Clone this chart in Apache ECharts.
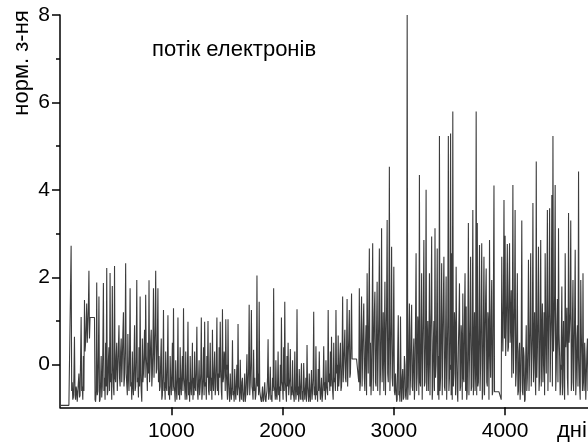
<!DOCTYPE html>
<html>
<head>
<meta charset="utf-8">
<script src="https://cdn.jsdelivr.net/npm/echarts@6/dist/echarts.min.js"></script>
<style>
html,body{margin:0;padding:0;background:#fff;}
#chart{width:588px;height:444px;}
</style>
</head>
<body>
<div id="chart"></div>
<script>
// Normalised electron flux, one reading every dayStep days
const dayStep = 5;
const fluxValues = [
  -0.93,-0.93,-0.93,-0.93,-0.93,-0.93,-0.93,-0.93,-0.93,-0.93,-0.93,-0.93,-0.93,-0.93,-0.93,-0.93,-0.93,-0.93,-0.93,-0.93,
  2.72,-0.6,-0.4,-0.8,-0.75,-0.3,0.64,-0.7,-0.8,-0.5,-0.6,-0.85,-0.85,-0.4,-0.2,-0.75,-0.7,0.1,1.09,-0.6,
  -0.5,-0.8,0.2,-0.6,1.48,0.3,0.5,0.9,1.4,0.5,0.9,1.3,2.15,0.6,1.08,1.08,1.08,1.08,1.08,1.08,
  1.08,1.08,1.08,-0.8,-0.85,-0.6,1.88,-0.7,-0.6,0.2,1.56,-0.85,-0.8,-0.4,0.2,-0.75,-0.5,0.4,1.87,-0.6,
  -0.3,-0.8,0.5,-0.5,2.21,-0.7,-0.6,0.1,0.4,-0.6,2.1,-0.4,-0.2,-0.8,1.8,0.0,-0.5,-0.7,2.26,-0.3,
  -0.4,0.2,0.5,-0.6,-0.1,0.4,0.9,-0.3,-0.5,0.3,0.6,-0.4,0.1,0.7,1.2,-0.5,-0.3,0.4,2.32,-0.2,
  -0.2,-0.7,0.7,-0.3,-0.6,0.2,1.75,-0.5,-0.4,-0.8,0.3,-0.5,-0.7,0.1,0.9,-0.6,-0.5,0.2,1.94,-0.4,
  -0.3,-0.75,0.4,-0.5,1.56,-0.2,-0.6,-0.85,0.6,-0.4,-0.2,0.3,0.8,-0.3,1.6,0.2,-0.1,-0.6,0.5,-0.2,
  1.93,-0.4,0.0,0.5,0.8,-0.5,-0.2,0.4,1.75,-0.3,0.3,0.9,2.15,-0.2,-0.1,0.6,1.75,-0.4,0.2,-0.6,
  -0.5,0.1,0.6,-0.8,-0.7,-0.2,1.25,-0.6,-0.4,-0.8,0.3,-0.5,-0.6,0.0,1.13,-0.7,-0.5,-0.8,0.2,-0.4,
  -0.7,-0.2,0.5,-0.6,1.29,-0.5,-0.6,-0.85,0.1,-0.5,-0.8,-0.3,1.08,-0.7,-0.3,-0.8,0.4,-0.5,-0.7,-0.2,
  0.2,-0.6,1.29,-0.3,-0.5,-0.8,0.3,-0.6,-0.8,-0.2,0.98,-0.7,-0.4,-0.85,0.2,-0.5,-0.7,-0.3,0.5,-0.8,
  -0.3,-0.7,0.3,-0.5,-0.6,-0.1,0.87,-0.6,-0.8,-0.4,0.1,-0.7,-0.5,-0.2,1.08,-0.8,-0.6,-0.3,0.4,-0.7,
  0.98,-0.5,-0.4,-0.8,0.2,-0.3,1.0,-0.6,-0.7,-0.2,0.5,-0.6,-0.3,-0.8,0.8,-0.4,-0.6,-0.1,0.3,-0.7,
  -0.5,0.0,1.08,-0.6,-0.2,-0.7,0.4,-0.3,0.98,-0.1,-0.6,-0.8,1.27,-0.4,-0.3,0.3,0.2,-0.6,1.04,-0.2,
  -0.5,-0.8,1.04,-0.4,-0.7,-0.85,-0.2,-0.6,-0.8,-0.5,0.56,-0.7,-0.6,-0.85,-0.1,-0.6,-0.8,-0.4,0.0,-0.7,
  0.93,-0.5,-0.6,-0.85,0.11,-0.6,-0.8,-0.4,-0.3,-0.8,-0.85,-0.6,-0.2,-0.85,-0.7,-0.3,0.24,-0.7,-0.5,-0.1,
  1.37,-0.7,-0.4,0.1,1.25,-0.5,-0.6,-0.8,0.34,-0.6,-0.3,-0.8,-0.7,-0.4,2.04,-0.5,-0.2,-0.7,1.44,-0.6,
  -0.6,-0.8,-0.85,-0.7,-0.5,-0.85,-0.8,-0.6,-0.4,-0.8,-0.85,-0.7,-0.6,-0.3,0.58,-0.8,-0.7,-0.5,-0.05,-0.8,
  -0.7,-0.85,-0.3,-0.6,1.75,-0.5,-0.6,-0.8,0.1,-0.7,-0.8,-0.5,0.3,-0.7,-0.5,-0.85,0.0,-0.6,1.08,-0.4,
  -0.5,-0.8,0.4,-0.6,1.44,-0.4,-0.6,-0.85,0.2,-0.5,0.5,-0.7,-0.7,-0.3,0.36,-0.8,-0.5,-0.7,0.1,-0.6,
  -0.6,-0.85,0.3,-0.5,-0.8,-0.6,1.27,-0.7,-0.5,-0.85,-0.1,-0.6,-0.8,-0.4,0.03,-0.8,-0.6,-0.85,0.04,-0.5,
  -0.8,-0.6,-0.3,-0.85,0.45,-0.5,-0.7,-0.85,-0.2,-0.7,-0.85,-0.5,-0.12,-0.8,-0.6,-0.3,1.21,-0.7,-0.5,-0.8,
  0.42,-0.7,-0.6,-0.85,-0.1,-0.6,0.3,-0.5,-0.8,-0.6,-0.3,-0.85,-0.7,-0.4,0.42,-0.6,-0.4,-0.8,0.1,-0.5,
  -0.5,-0.7,1.25,-0.4,-0.2,-0.6,0.3,-0.5,0.64,-0.3,-0.6,-0.8,0.5,-0.4,-0.3,-0.6,1.25,-0.2,-0.1,-0.6,
  0.67,-0.5,-0.3,0.2,0.5,-0.6,-0.5,0.1,1.56,-0.4,0.0,0.4,0.8,-0.3,-0.4,0.3,1.5,-0.5,0.2,0.6,
  1.25,-0.3,-0.2,0.5,1.63,0.13,0.13,0.13,0.13,0.13,0.13,0.13,0.13,0.13,0.13,0.13,0.13,-0.4,1.75,-0.6,
  -0.4,0.8,1.56,-0.5,0.2,0.9,1.4,-0.3,-0.6,0.4,0.9,-0.7,2.09,0.6,-0.2,1.1,2.66,-0.5,0.5,-0.7,
  -0.3,1.0,2.78,-0.6,0.4,1.2,1.67,-0.4,-0.5,0.8,1.9,-0.6,0.3,1.1,2.66,-0.7,-0.2,0.9,3.12,-0.4,
  0.2,1.2,-0.6,0.4,1.9,-0.7,0.5,1.3,3.31,-0.2,-0.4,0.9,4.53,-0.6,0.1,1.0,2.7,-0.3,-0.5,0.5,
  2.24,-0.6,-0.7,-0.2,-0.2,-0.85,-0.8,0.3,1.13,-0.7,-0.6,-0.85,1.1,-0.5,-0.85,-0.3,-0.1,-0.8,-0.75,0.2,
  0.0,-0.7,-0.8,-0.5,8.0,-0.8,-0.5,0.5,1.4,-0.7,-0.3,0.8,1.37,-0.5,-0.6,0.2,0.6,-0.8,-0.4,1.0,
  2.55,-0.6,-0.2,1.1,0.8,-0.7,4.34,-0.4,-0.5,0.7,2.09,-0.8,0.3,1.2,2.85,-0.5,-0.4,0.6,4.0,-0.6,
  0.4,1.0,-0.6,0.2,2.09,-0.7,0.6,1.3,2.93,-0.8,-0.5,0.5,1.0,-0.6,3.12,-0.3,0.0,0.9,2.66,-0.7,
  0.2,-0.8,5.23,-0.6,-0.3,1.0,2.32,-0.7,0.5,1.4,2.47,-0.5,-0.6,0.6,2.02,-0.8,0.1,1.1,5.23,-0.6,
  -0.3,0.7,5.29,-0.7,2.55,-0.8,5.79,-0.5,-0.2,1.2,0.8,-0.7,2.24,0.3,-0.6,-0.85,0.4,1.0,1.86,-0.6,
  -0.5,0.9,0.6,-0.8,1.63,-0.3,-0.4,1.1,2.09,-0.6,1.33,-0.8,-0.6,0.5,3.24,-0.7,0.2,1.0,2.47,-0.6,
  -0.5,0.8,3.54,-0.7,0.3,1.2,-0.6,-0.2,5.79,-0.7,3.24,-0.5,-0.4,0.9,2.74,-0.6,0.0,1.3,2.78,-0.8,
  -0.6,1.0,2.47,-0.7,0.5,1.5,2.2,-0.4,-0.5,1.2,0.9,-0.8,2.85,0.4,-0.3,1.1,1.94,-0.7,-0.6,1.6,
  4.1,-0.62,-0.62,-0.62,-0.62,-0.62,-0.62,-0.62,-0.62,-0.62,-0.62,-0.62,-0.62,-0.8,2.47,0.9,0.3,1.4,3.77,0.6,
  2.95,0.2,0.8,1.6,2.76,0.3,0.4,1.8,2.78,0.5,1.0,1.7,-0.3,0.9,4.11,-0.2,0.6,1.4,3.54,-0.5,
  -0.2,0.8,2.09,-0.7,-0.6,0.3,0.5,-0.8,-0.4,0.6,3.3,-0.6,-0.7,0.4,0.2,-0.85,-0.8,0.1,0.9,-0.6,
  -0.3,0.5,2.4,-0.6,0.2,1.0,2.55,-0.5,-0.5,0.7,3.7,-0.4,0.4,1.2,-0.2,-0.7,4.65,-0.3,0.3,1.1,
  2.7,-0.6,-0.3,1.0,2.85,-0.5,0.6,1.4,-0.4,0.2,1.2,-0.7,2.55,0.8,-0.2,1.3,3.54,-0.6,0.5,1.5,
  3.58,-0.4,0.5,1.2,3.88,-0.5,5.23,0.3,0.8,1.6,4.11,-0.6,-0.1,0.9,1.5,-0.4,3.12,0.7,0.2,-0.7,
  -0.4,0.6,1.79,-0.7,0.3,1.0,-0.5,-0.8,2.55,0.4,0.7,1.3,-0.3,-0.7,3.47,0.5,0.5,1.2,3.3,-0.6,
  -0.4,1.0,1.94,-0.6,0.2,1.1,2.63,-0.7,-0.3,0.6,0.9,-0.5,4.42,0.2,-0.5,-0.8,1.94,0.7,0.1,-0.6,
  2.09,-0.4,-0.6,0.5,0.11,-0.8,-0.8,0.3,0.6,-0.6,-0.5,0.8,1.2,-0.7,-0.7,0.2,0.4,-0.8,-0.6,0.3
];
const yMajorTicks = [0, 2, 4, 6, 8];
const yMinorTicks = [1, 3, 5, 7];
const xMajorTicks = [1000, 2000, 3000, 4000];
const xMinorTicks = [500, 1500, 2500, 3500, 4500];
const yAxisTitle = 'норм. з-ня';
const xAxisTitle = 'дні';
const plotTitle = 'потік електронів';

const seriesData = fluxValues.map((v, i) => [i * dayStep, v]);

const FONT = "'Liberation Sans', Arial, sans-serif";
const AX = {color: '#000', width: 1.5};
const plain = v => String(v);
const chart = echarts.init(document.getElementById('chart'), null, {renderer: 'canvas'});
chart.setOption({
  animation: false,
  backgroundColor: '#fff',
  grid: {left: 60, top: 15, right: 0, bottom: 36.7, containLabel: false},
  xAxis: [{
    type: 'value', min: 0, max: 4745,
    axisLine: {show: true, onZero: false, lineStyle: AX},
    axisTick: {show: true, inside: false, length: 8, customValues: xMajorTicks, lineStyle: AX},
    splitLine: {show: false},
    axisLabel: {fontFamily: FONT, fontSize: 21, color: '#000', margin: 13, customValues: xMajorTicks, formatter: plain}
  }, {
    type: 'value', min: 0, max: 4745, position: 'bottom',
    axisLine: {show: false},
    axisTick: {show: true, inside: false, length: 5, customValues: xMinorTicks, lineStyle: AX},
    axisLabel: {show: false},
    splitLine: {show: false}
  }],
  yAxis: [{
    type: 'value', min: -0.975, max: 8,
    axisLine: {show: true, onZero: false, lineStyle: AX},
    axisTick: {show: true, inside: false, length: 8, customValues: yMajorTicks, lineStyle: AX},
    axisLabel: {fontFamily: FONT, fontSize: 21, color: '#000', margin: 10, customValues: yMajorTicks, formatter: plain},
    splitLine: {show: false}
  }, {
    type: 'value', min: -0.975, max: 8, position: 'left',
    axisLine: {show: false},
    axisTick: {show: true, inside: false, length: 4, customValues: yMinorTicks, lineStyle: AX},
    axisLabel: {show: false},
    splitLine: {show: false}
  }],
  series: [{
    type: 'line', data: seriesData, showSymbol: false, symbol: 'none',
    xAxisIndex: 0, yAxisIndex: 0, sampling: null, clip: true,
    lineStyle: {color: '#3c3c3c', width: 1.1},
    silent: true
  }],
  graphic: [
    {type: 'text', x: 22, y: 63, rotation: Math.PI / 2,
     style: {text: yAxisTitle, font: '22px ' + FONT, fill: '#000', textAlign: 'center', textVerticalAlign: 'middle'}},
    {type: 'text', x: 152, y: 50,
     style: {text: plotTitle, font: '22px ' + FONT, fill: '#000', textAlign: 'left', textVerticalAlign: 'middle'}},
    {type: 'text', x: 557, y: 431,
     style: {text: xAxisTitle, font: '22px ' + FONT, fill: '#000', textAlign: 'left', textVerticalAlign: 'middle'}}
  ]
});
</script>
</body>
</html>
